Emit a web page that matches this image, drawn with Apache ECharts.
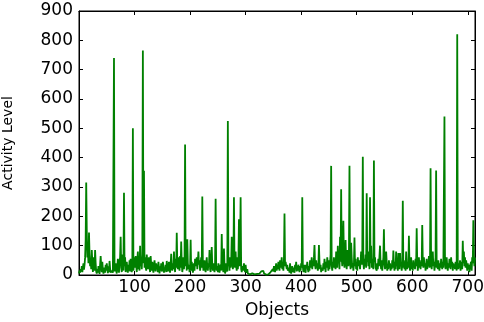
<!DOCTYPE html>
<html>
<head>
<meta charset="utf-8">
<script src="https://cdn.jsdelivr.net/npm/echarts@6/dist/echarts.min.js"></script>
<style>html,body{margin:0;padding:0;background:#fff;}#c{width:484px;height:322px;}</style>
</head>
<body>
<div id="c"></div>
<script>
const xLabelText = 'Objects';
const yLabelText = 'Activity Level';
const xTicks = [100, 200, 300, 400, 500, 600, 700];
const yTicks = [0, 100, 200, 300, 400, 500, 600, 700, 800, 900];
const activity = [
5,15,8,20,12,30,10,25,40,18,35,60,120,315,150,60,90,40,145,70,
30,55,20,85,45,10,60,25,15,85,40,12,5,20,8,30,15,4,10,65,
30,10,45,18,5,12,25,8,35,15,40,20,6,30,10,48,22,8,5,15,
20,8,10,740,12,25,40,15,5,30,55,20,8,45,60,130,25,10,70,40,
15,280,30,60,10,25,45,20,8,35,15,50,12,55,20,10,30,500,15,40,
60,25,65,35,10,50,80,20,40,15,100,30,55,20,70,765,40,355,25,60,
30,15,70,45,20,50,60,25,10,65,35,15,45,20,8,30,50,25,12,40,
20,35,10,45,25,5,30,15,40,12,20,45,30,8,25,15,35,10,48,20,
12,30,45,20,8,35,72,25,15,40,20,80,30,10,55,25,144,40,20,60,
35,15,65,25,114,40,10,30,60,20,50,445,30,70,15,122,40,20,35,10,
25,120,15,45,30,8,20,40,15,55,30,25,60,20,45,80,35,50,15,30,
60,25,268,40,15,30,50,20,10,35,60,25,15,40,30,85,20,10,45,95,
30,15,40,20,10,35,260,25,15,30,10,40,20,8,25,35,15,140,40,20,
10,90,30,5,15,40,20,12,525,30,45,15,60,25,40,130,50,20,35,265,
40,25,80,30,15,60,20,45,190,30,80,265,20,10,30,15,25,40,20,10,
35,15,8,20,5,10,3,8,2,5,4,2,6,3,1,4,2,5,3,1,
2,4,6,3,8,5,10,6,12,8,15,10,14,6,4,2,3,1,2,4,
3,2,5,8,4,10,15,8,5,20,12,30,18,10,25,40,15,30,20,45,
30,15,50,25,35,60,20,40,15,55,210,30,45,50,20,35,15,10,25,8,
40,15,5,20,30,10,25,15,8,35,20,45,12,30,15,35,20,10,30,15,
40,25,265,30,10,20,35,15,8,35,25,45,20,10,30,15,50,25,35,60,
20,45,30,60,102,35,20,50,25,40,15,30,102,45,20,35,10,25,30,15,
40,20,55,30,10,45,25,60,35,15,50,20,40,70,372,30,15,45,25,60,
35,40,20,80,50,25,100,40,60,20,130,45,292,60,30,80,185,50,25,65,
119,40,20,85,55,30,70,372,45,20,110,60,25,40,15,35,128,30,55,20,
40,15,60,30,25,50,20,45,80,35,60,403,40,20,55,30,70,25,279,45,
60,30,80,20,265,40,100,25,55,30,20,390,45,60,25,30,15,40,20,55,
30,65,100,40,20,50,15,35,60,156,40,20,30,80,45,15,35,20,50,25,
40,15,30,20,50,25,83,35,15,45,20,80,30,55,15,75,40,20,75,30,
45,15,35,253,25,50,20,40,15,80,35,20,45,25,134,40,15,30,60,20,
35,15,50,25,40,20,55,30,159,45,15,35,60,25,40,20,50,30,170,45,
25,60,30,40,15,35,55,20,45,30,65,25,40,364,35,20,50,80,30,45,
15,35,60,356,25,40,20,50,30,15,40,25,55,35,20,45,25,30,540,40,
20,50,60,30,15,40,25,55,35,20,60,30,45,15,40,25,35,20,45,30,
15,821,35,20,40,25,50,15,30,45,20,117,40,80,30,60,25,50,35,15,
40,20,35,10,30,25,45,15,60,40,187,50,30,60
];
const xMax = activity.length - 1;
const seriesData = activity.map((v, i) => [i, v]);

const chart = echarts.init(document.getElementById('c'), null, {renderer: 'canvas'});
const axisLineStyle = {show: true, onZero: false, lineStyle: {color: '#000', width: 1}};
const tickStyle = {show: true, inside: true, length: 4, lineStyle: {color: '#000', width: 1}};
const labelFont = {fontFamily: 'DejaVu Sans', fontSize: 17, color: '#000'};
chart.setOption({
  animation: false,
  grid: {left: 79, top: 11, right: 9, bottom: 47, containLabel: false, outerBoundsMode: 'none',
    show: true, borderColor: '#000', borderWidth: 1, backgroundColor: 'transparent'},
  xAxis: [{
    type: 'value', min: 0, max: xMax, interval: 100, position: 'bottom',
    axisLine: axisLineStyle, axisTick: tickStyle, splitLine: {show: false},
    axisLabel: Object.assign({margin: 4, showMinLabel: false, showMaxLabel: false,
      formatter: v => xTicks.includes(v) ? String(v) : ''}, labelFont),
    name: xLabelText, nameLocation: 'middle', nameGap: 27,
    nameTextStyle: {fontFamily: 'DejaVu Sans', fontSize: 17, color: '#000'}
  }, {
    type: 'value', min: 0, max: xMax, interval: 100, position: 'top',
    axisLine: axisLineStyle, axisTick: tickStyle, splitLine: {show: false},
    axisLabel: {show: false}
  }],
  yAxis: [{
    type: 'value', min: 0, max: 900, interval: 100, position: 'left',
    axisLine: axisLineStyle, axisTick: tickStyle, splitLine: {show: false},
    axisLabel: Object.assign({margin: 6, formatter: v => yTicks.includes(v) ? String(v) : ''}, labelFont),
    name: yLabelText, nameLocation: 'middle', nameGap: 64, nameRotate: 90,
    nameTextStyle: {fontFamily: 'DejaVu Sans', fontSize: 14, color: '#000'}
  }, {
    type: 'value', min: 0, max: 900, interval: 100, position: 'right',
    axisLine: axisLineStyle, axisTick: tickStyle, splitLine: {show: false},
    axisLabel: {show: false}
  }],
  series: [{
    type: 'line', data: seriesData, showSymbol: false, sampling: null,
    lineStyle: {color: '#008000', width: 1.8}, itemStyle: {color: '#008000'},
    xAxisIndex: 0, yAxisIndex: 0
  }]
});
</script>
</body>
</html>
